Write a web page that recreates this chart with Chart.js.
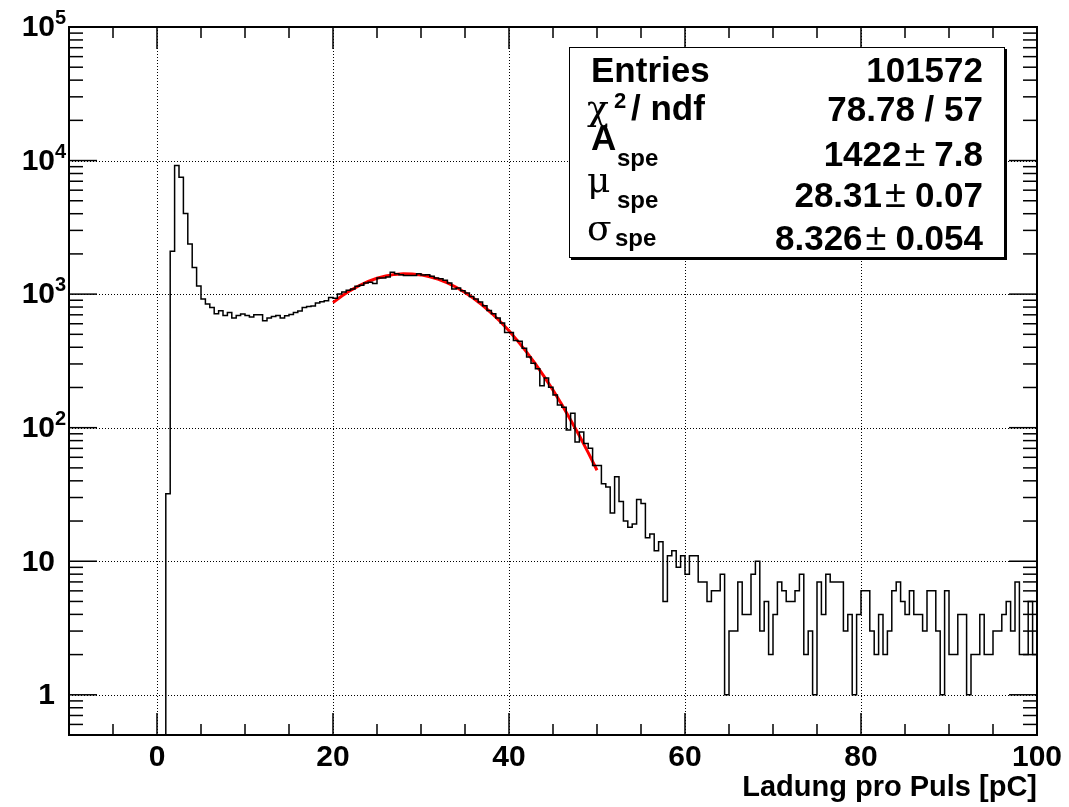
<!DOCTYPE html>
<html>
<head>
<meta charset="utf-8">
<script src="https://cdn.jsdelivr.net/npm/chart.js@4.4.1/dist/chart.umd.min.js"></script>
<style>
  html, body { margin: 0; padding: 0; background: #fff; }
  #wrap { width: 1069px; height: 807px; }
</style>
</head>
<body>
<div id="wrap"><canvas id="spektrum" width="1069" height="807"></canvas></div>
<script>
// Ladungsspektrum, Bins à 0.5 pC ab 0 pC
const binStart = 0;
const binWidth = 0.5;
const counts = [
  0, 0, 32, 2090, 9190, 7500, 4010, 2375, 1585, 1150,
  918, 843, 795, 713, 750, 692, 729, 662, 692, 710,
  692, 673, 700, 700, 631, 662, 680, 692, 662, 689,
  705, 729, 747, 795, 809, 815, 857, 877, 892, 945,
  930, 1002, 1037, 1067, 1092, 1143, 1163, 1212, 1225, 1200,
  1322, 1322, 1344, 1455, 1422, 1399, 1381, 1381, 1381, 1422,
  1390, 1399, 1358, 1322, 1306, 1268, 1212, 1092, 1111, 1061,
  1019, 961, 918, 873, 818, 755, 713, 662, 607, 516,
  515, 450, 444, 394, 338, 304, 276, 206, 235, 201,
  176, 148, 142, 96, 128, 78, 93, 76, 70, 52,
  52, 38, 36, 23, 43, 28, 20, 18, 19, 29,
  27, 15, 16, 12, 14, 5, 11, 12, 9, 11,
  8, 11, 11, 7, 7, 5, 6, 6, 8, 1,
  3, 3, 7, 4, 4, 8, 10, 3, 5, 2,
  4, 7, 6, 5, 5, 6, 8, 2, 3, 1,
  7, 4, 8, 7, 7, 7, 3, 4, 1, 4,
  6, 6, 3, 2, 4, 2, 3, 6, 7, 5,
  4, 6, 4, 4, 3, 6, 6, 3, 1, 6,
  2, 2, 4, 4, 1, 2, 2, 4, 2, 2,
  3, 3, 4, 5, 3, 7, 2, 2, 5, 2
];

// Gauss-Fit (rot), 20 .. 50 pC
const fitX = [20, 21, 22, 23, 24, 25, 26, 27, 28, 29, 30, 31, 32, 33, 34, 35,
              36, 37, 38, 39, 40, 41, 42, 43, 44, 45, 46, 47, 48, 49, 50];
const fitY = [864, 967, 1067, 1160, 1244, 1314, 1368, 1405, 1421, 1417, 1393, 1350,
              1289, 1213, 1126, 1030, 928, 825, 722, 624, 531, 445, 368, 300,
              241, 191, 149, 114, 87, 65, 48];

const xTickValues = [0, 20, 40, 60, 80, 100];
const xTickLabels = ['0', '20', '40', '60', '80', '100'];
const yTickValues = [1, 10, 100, 1000, 10000, 100000];
const yTickLabels = ['1', '10', '10^2', '10^3', '10^4', '10^5'];
const xTitle = 'Ladung pro Puls [pC]';

// Statistik-Box
const statNames = ['Entries', 'χ', 'A', 'μ', 'σ'];
const statSup = ['', '2', '', '', ''];
const statRest = ['', '/ ndf', '', '', ''];
const statSub = ['', '', 'spe', 'spe', 'spe'];
const statValues = ['101572', '78.78 / 57', '1422', '28.31', '8.326'];
const statErrors = ['', '', '7.8', '0.07', '0.054'];

const X_MIN = -10, X_MAX = 100, Y_MIN = 0.5, Y_MAX = 1e5;
const SANS = '"Liberation Sans", Arial, Helvetica, sans-serif';
const SERIF = '"DejaVu Serif", "Liberation Serif", serif';

const histPoints = counts.map((c, i) => ({ x: binStart + i * binWidth, y: c > 0 ? c : Y_MIN }));
histPoints.push({ x: binStart + counts.length * binWidth, y: histPoints[histPoints.length - 1].y });
const fitPoints = fitX.map((v, i) => ({ x: v, y: fitY[i] }));

function seg(ctx, x1, y1, x2, y2) {
  ctx.beginPath();
  ctx.moveTo(x1, y1);
  ctx.lineTo(x2, y2);
  ctx.stroke();
}

const rootFrame = {
  id: 'rootFrame',
  beforeDatasetsDraw(chart) {
    const { ctx, chartArea: a, scales: { x, y } } = chart;
    ctx.save();
    ctx.strokeStyle = '#000';
    ctx.lineWidth = 1;
    ctx.setLineDash([1, 2]);
    xTickValues.forEach(v => {
      const px = Math.round(x.getPixelForValue(v)) + 0.5;
      if (px > a.left + 2 && px < a.right - 2) seg(ctx, px, a.top, px, a.bottom);
    });
    yTickValues.forEach(v => {
      const py = Math.round(y.getPixelForValue(v)) + 0.5;
      if (py > a.top + 2 && py < a.bottom - 2) seg(ctx, a.left, py, a.right, py);
    });
    ctx.restore();
  },
  afterDatasetsDraw(chart) {
    const { ctx, chartArea: a, scales: { x, y } } = chart;
    ctx.save();
    ctx.strokeStyle = '#000';
    ctx.lineWidth = 1.5;

    // Ticks x (unten und oben)
    for (let v = X_MIN; v <= X_MAX; v += 5) {
      const px = x.getPixelForValue(v);
      const len = xTickValues.includes(v) ? 22 : 11;
      seg(ctx, px, a.bottom, px, a.bottom - len);
      seg(ctx, px, a.top, px, a.top + len);
    }
    // Ticks y (links und rechts)
    for (let d = 0.1; d <= 1e4 * 1.01; d *= 10) {
      for (let m = 1; m <= 9; m++) {
        const v = m * d;
        if (v < Y_MIN * 0.999 || v > Y_MAX * 1.001) continue;
        const py = y.getPixelForValue(v);
        const len = m === 1 ? 28 : 14;
        seg(ctx, a.left, py, a.left + len, py);
        seg(ctx, a.right, py, a.right - len, py);
      }
    }

    // Rahmen
    ctx.lineWidth = 2;
    ctx.strokeRect(a.left, a.top, a.right - a.left, a.bottom - a.top);

    // Achsenbeschriftung x
    ctx.fillStyle = '#000';
    ctx.font = 'bold 30px ' + SANS;
    ctx.textAlign = 'center';
    ctx.textBaseline = 'middle';
    xTickValues.forEach((v, i) => {
      ctx.fillText(xTickLabels[i], x.getPixelForValue(v), a.bottom + 23);
    });

    // Achsenbeschriftung y (10^n mit Exponent)
    yTickValues.forEach((v, i) => {
      const py = y.getPixelForValue(v);
      const parts = yTickLabels[i].split('^');
      ctx.font = 'bold 30px ' + SANS;
      ctx.textAlign = 'right';
      ctx.textBaseline = 'middle';
      ctx.fillText(parts[0], a.left - 14, py + 1);
      if (parts[1]) {
        ctx.font = 'bold 20px ' + SANS;
        ctx.textAlign = 'left';
        ctx.textBaseline = 'alphabetic';
        ctx.fillText(parts[1], a.left - 14, py - 3);
      }
    });

    // Achsentitel
    ctx.font = 'bold 29px ' + SANS;
    ctx.textAlign = 'right';
    ctx.textBaseline = 'alphabetic';
    ctx.fillText(xTitle, a.right, 796);

    // Statistik-Box
    const bl = 569, bt = 47, br = 1005, bb = 258;
    ctx.fillStyle = '#000';
    ctx.fillRect(bl + 2, bt + 2, br - bl, bb - bt);
    ctx.fillStyle = '#fff';
    ctx.fillRect(bl, bt, br - bl, bb - bt);
    ctx.lineWidth = 1;
    ctx.strokeRect(bl + 0.5, bt + 0.5, br - bl - 1, bb - bt - 1);

    ctx.fillStyle = '#000';
    ctx.textBaseline = 'alphabetic';
    const nameX = [591, 587, 591, 587, 587];
    const nameY = [82, 120, 150, 192, 240];
    const subX = [0, 0, 617, 617, 615];
    const subY = [0, 0, 166, 208, 246];
    const valY = [82, 121, 166, 207, 250];
    const valRight = 983;

    statNames.forEach((name, i) => {
      ctx.textAlign = 'left';
      const greek = /[χμσ]/.test(name);
      ctx.font = greek ? '36px ' + SERIF : 'bold 35px ' + SANS;
      ctx.fillText(name, nameX[i], nameY[i]);
      if (statSup[i]) {
        ctx.font = 'bold 22px ' + SANS;
        ctx.fillText(statSup[i], 614, nameY[i] - 12);
      }
      if (statRest[i]) {
        ctx.font = 'bold 35px ' + SANS;
        ctx.fillText(statRest[i], 631, nameY[i]);
      }
      if (statSub[i]) {
        ctx.font = 'bold 24px ' + SANS;
        ctx.fillText(statSub[i], subX[i], subY[i]);
      }

      ctx.textAlign = 'right';
      let xr = valRight;
      if (statErrors[i]) {
        ctx.font = 'bold 35px ' + SANS;
        ctx.fillText(statErrors[i], xr, valY[i]);
        xr -= ctx.measureText(statErrors[i]).width + 9;
        ctx.font = '38px ' + SANS;
        ctx.fillText('±', xr, valY[i]);
        xr -= ctx.measureText('±').width + 3;
      }
      ctx.font = 'bold 35px ' + SANS;
      ctx.fillText(statValues[i], xr, valY[i]);
    });

    ctx.restore();
  }
};

new Chart(document.getElementById('spektrum').getContext('2d'), {
  type: 'line',
  data: {
    datasets: [
      {
        label: 'Ladung',
        data: histPoints,
        stepped: 'before',
        borderColor: '#000',
        borderWidth: 1.5,
        pointRadius: 0,
        fill: false
      },
      {
        label: 'Fit',
        data: fitPoints,
        borderColor: '#ff0000',
        borderWidth: 3,
        pointRadius: 0,
        tension: 0,
        fill: false
      }
    ]
  },
  options: {
    responsive: false,
    animation: false,
    events: [],
    layout: { padding: { left: 69, right: 32, top: 27, bottom: 72 } },
    plugins: { legend: { display: false }, tooltip: { enabled: false } },
    scales: {
      x: { type: 'linear', min: X_MIN, max: X_MAX, display: false },
      y: { type: 'logarithmic', min: Y_MIN, max: Y_MAX, display: false }
    }
  },
  plugins: [rootFrame]
});
</script>
</body>
</html>
